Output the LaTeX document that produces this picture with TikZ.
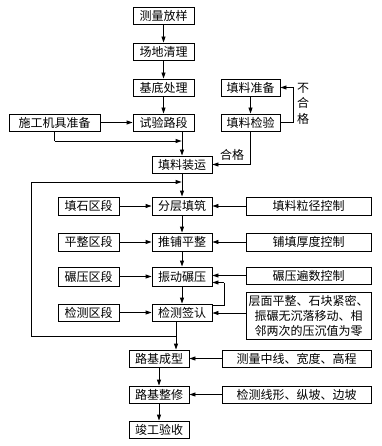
\documentclass[tikz,border=0pt]{standalone}
\usepackage{fontspec}
\newfontfamily\cjk{Noto Sans CJK SC}
\usetikzlibrary{arrows.meta}
\begin{document}
\begin{tikzpicture}[x=1pt,y=-1pt,
  box/.style={draw, line width=0.9pt, inner sep=0pt, minimum height=17pt, align=center,
    font=\cjk\fontsize{12}{15}\selectfont},
  lbl/.style={inner sep=0pt, align=center, font=\cjk\fontsize{12}{15.5}\selectfont},
  arr/.style={line width=0.9pt, -{Triangle[length=6pt,width=4pt]}},
  ln/.style={line width=0.9pt}]
\useasboundingbox (0,0) rectangle (381,446);
% main column
\node[box, minimum width=61pt] (m1) at (163.5,16) {测量放样};
\node[box, minimum width=61pt] (m2) at (163.5,51.5) {场地清理};
\node[box, minimum width=61pt] (m3) at (163.5,87.5) {基底处理};
\node[box, minimum width=61pt] (m4) at (163.5,122.5) {试验路段};
\node[box, minimum width=91pt] (sg) at (54.5,122.5) {施工机具准备};
\node[box, minimum width=59pt] (tz) at (250.5,87.5) {填料准备};
\node[box, minimum width=59pt] (tj) at (250.5,122.5) {填料检验};
\node[box, minimum width=60pt] (zy) at (182,164.5) {填料装运};
\node[box, minimum width=60pt, minimum height=18pt] (fc) at (182,206) {分层填筑};
\node[box, minimum width=61pt, minimum height=18pt] (ts) at (88.5,206) {填石区段};
\node[box, minimum width=125pt, minimum height=18pt] (lj) at (308.5,206) {填料粒径控制};
\node[box, minimum width=60pt, minimum height=18pt] (tp) at (182,242) {推铺平整};
\node[box, minimum width=61pt, minimum height=18pt] (pz) at (88.5,242) {平整区段};
\node[box, minimum width=125pt, minimum height=18pt] (pt) at (308.5,242) {铺填厚度控制};
\node[box, minimum width=60pt, minimum height=19pt] (zd) at (182,276.5) {振动碾压};
\node[box, minimum width=61pt, minimum height=19pt] (ny) at (88.5,276.5) {碾压区段};
\node[box, minimum width=125pt] (nb) at (308.5,275.5) {碾压遍数控制};
\node[box, minimum width=60pt] (jc) at (182,312.5) {检测签认};
\node[box, minimum width=61pt] (jq) at (88.5,312.5) {检测区段};
\node[box, minimum width=125pt, minimum height=47pt] (big) at (308.5,315.5)
  {层面平整、石块紧密、\\振碾无沉落移动、相\\邻两次的压沉值为零};
\node[box, minimum width=60pt] (lc) at (159,358.5) {路基成型};
\node[box, minimum width=149pt] (cl) at (296.5,358.5) {测量中线、宽度、高程};
\node[box, minimum width=60pt] (lz) at (159,394.5) {路基整修};
\node[box, minimum width=149pt] (jx) at (296.5,394.5) {检测线形、纵坡、边坡};
\node[box, minimum width=60pt] (jg) at (159,429.5) {竣工验收};
% labels
\node[lbl] (bhg) at (303,103.5) {不\\合\\格};
\node[lbl] (hg) at (232,154.5) {合格};
% helper coordinates
\coordinate (sgc) at (54.5,141);
\coordinate (sgj) at (182,141);
\coordinate (nr) at (293,122.5);
\coordinate (nt) at (293,87.5);
\coordinate (hgc) at (250.5,164.5);
\coordinate (lt) at (31,182);
\coordinate (lb) at (31,336);
\coordinate (lj1) at (182,182);
\coordinate (jcb) at (176,336);
\coordinate (jr1) at (224,305);
\coordinate (jr2) at (224,282.5);
% connectors
\draw[arr] (m1) -- (m2);
\draw[arr] (m2) -- (m3);
\draw[arr] (m3) -- (m4);
\draw[arr] (sg) -- (m4);
\draw[arr] (m4.south -| zy.north) -- (zy.north);
\draw[ln] (sg.south) -- (sgc);
\draw[arr] (sgc) -- ([xshift=-0.4pt]sgj);
\draw[arr] (tz) -- (tj);
\draw[ln] (tj.east) -- (nr) -- (nt);
\draw[arr] (nt) -- (tz.east);
\draw[ln] (tj.south) -- (hgc);
\draw[arr] (hgc) -- (zy.east);
\draw[arr] (zy) -- (fc);
\draw[ln] (lb) -- (lt);
\draw[arr] (lt) -- ([xshift=-0.4pt]lj1);
\draw[arr] (ts) -- (fc);
\draw[arr] (lj) -- (fc);
\draw[arr] (fc) -- (tp);
\draw[arr] (pz) -- (tp);
\draw[arr] (pt) -- (tp);
\draw[arr] (tp) -- (zd);
\draw[arr] (ny) -- (zd);
\draw[arr] (nb.west) -- (nb.west -| zd.east);
\draw[arr] (zd) -- (jc);
\draw[ln] (jr1 -| jc.east) -- (jr1) -- (jr2);
\draw[arr] (jr2) -- (jr2 -| zd.east);
\draw[arr] (jq) -- (jc);
\draw[arr] (big.west |- 0,313) -- (jc.east |- 0,313);
\draw[ln] (lb) -- (jcb);
\draw[arr] (jc.south -| jcb) -- (lc.north -| jcb);
\draw[arr] (lc) -- (lz);
\draw[arr] (lz) -- (jg);
\draw[arr] (cl) -- (lc);
\draw[arr] (jx) -- (lz);
\end{tikzpicture}
\end{document}
